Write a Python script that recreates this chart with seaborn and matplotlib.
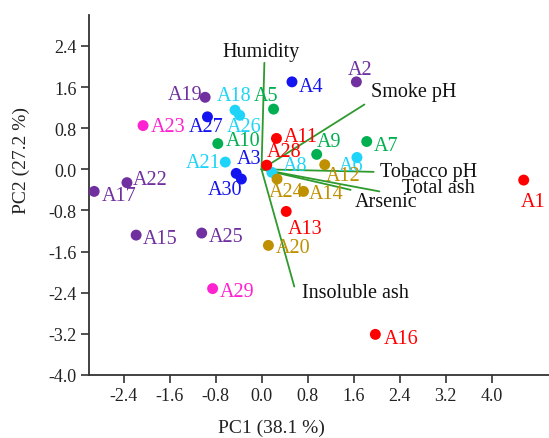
import matplotlib
matplotlib.use("Agg")
import matplotlib.pyplot as plt
import seaborn as sns
import pandas as pd

# ---- data ----
samples = ["A1", "A2", "A3", "A4", "A5", "A6", "A7", "A8", "A9", "A10",
           "A11", "A12", "A13", "A14", "A15", "A16", "A17", "A18", "A19", "A20",
           "A21", "A22", "A23", "A24", "A25", "A26", "A27", "A28", "A29", "A30"]
pc1 = [4.56, 1.65, -0.44, 0.53, 0.21, 1.66, 1.83, 0.18, 0.96, -0.76,
       0.26, 1.10, 0.43, 0.73, -2.18, 1.98, -2.91, -0.46, -0.98, 0.12,
       -0.63, -2.34, -2.06, 0.27, -1.04, -0.38, -0.94, 0.09, -0.85, -0.35]
pc2 = [-0.21, 1.70, -0.08, 1.70, 1.17, 0.23, 0.54, -0.06, 0.29, 0.50,
       0.60, 0.09, -0.82, -0.43, -1.28, -3.21, -0.43, 1.15, 1.40, -1.48,
       0.14, -0.26, 0.85, -0.19, -1.24, 1.05, 1.02, 0.08, -2.32, -0.19]
group = ["g1", "g2", "g3", "g3", "g4", "g5", "g4", "g5", "g4", "g4",
         "g1", "g6", "g1", "g6", "g2", "g1", "g2", "g5", "g2", "g6",
         "g5", "g2", "g7", "g6", "g2", "g5", "g3", "g1", "g7", "g3"]

variables = ["Humidity", "Smoke pH", "Tobacco pH", "Total ash", "Arsenic", "Insoluble ash"]
load_x = [0.05, 1.79, 1.95, 2.05, 1.55, 0.57]
load_y = [2.07, 1.26, -0.05, -0.43, -0.40, -2.28]

xlabel = "PC1 (38.1 %)"
ylabel = "PC2 (27.2 %)"
xticks = [-2.4, -1.6, -0.8, 0.0, 0.8, 1.6, 2.4, 3.2, 4.0]
yticks = [2.4, 1.6, 0.8, 0.0, -0.8, -1.6, -2.4, -3.2, -4.0]

# ---- styles ----
palette = {"g1": "#FF0000", "g2": "#7030A0", "g3": "#1414F0", "g4": "#00B050",
           "g5": "#1ED4F8", "g6": "#BF9000", "g7": "#FF22D0"}

# label offsets in pixels (dx, dy), ha
label_off = {
    "A1": (-3, -21, "left"), "A2": (-9, 12, "left"), "A3": (1, 15, "left"),
    "A4": (7, -5, "left"), "A5": (-20, 14, "left"), "A6": (-18, -8, "left"),
    "A7": (7, -4, "left"), "A8": (11, 7, "left"), "A9": (0, 13, "left"),
    "A10": (8, 3, "left"), "A11": (7, 2, "left"), "A12": (1, -11, "left"),
    "A13": (2, -17, "left"), "A14": (5, -2, "left"), "A15": (7, -3, "left"),
    "A16": (8, -4, "left"), "A17": (8, -4, "left"), "A18": (-18, 15, "left"),
    "A19": (-3, 3, "right"), "A20": (7, -2, "left"), "A21": (-5, 0, "right"),
    "A22": (6, 3, "left"), "A23": (8, -1, "left"), "A24": (-8, -12, "left"),
    "A25": (7, -3, "left"), "A26": (-13, -11, "left"), "A27": (-19, -10, "left"),
    "A28": (0, 14, "left"), "A29": (7, -3, "left"), "A30": (-34, -10, "left"),
}
var_lab = {
    "Humidity": (0.0, 2.29, "center"), "Smoke pH": (1.90, 1.52, "left"),
    "Tobacco pH": (2.06, -0.04, "left"), "Total ash": (2.44, -0.35, "left"),
    "Arsenic": (1.63, -0.62, "left"), "Insoluble ash": (0.70, -2.39, "left"),
}

sns.set_style("white")
plt.rcParams["font.family"] = ["Liberation Serif", "DejaVu Serif"]

fig = plt.figure(figsize=(5.49, 4.39), dpi=100)
ax = fig.add_axes([89 / 549, 63 / 439, 460 / 549, 360 / 439])

df = pd.DataFrame({"sample": samples, "PC1": pc1, "PC2": pc2, "group": group})

for v, lx, ly in zip(variables, load_x, load_y):
    ax.plot([0, lx], [0, ly], color="#2E9A2E", lw=1.3, zorder=1)
    tx, ty, ha = var_lab[v]
    ax.text(tx, ty, v, ha=ha, va="center", fontsize=14.5, color="#111111", zorder=4)

sns.scatterplot(data=df, x="PC1", y="PC2", hue="group", palette=palette,
                s=62, edgecolor="none", legend=False, ax=ax, zorder=3)

for s, x, y, g in zip(samples, pc1, pc2, group):
    dx, dy, ha = label_off[s]
    ax.annotate(s, (x, y), xytext=(dx, dy), textcoords="offset pixels",
                ha=ha, va="center", fontsize=14.5, color=palette[g], zorder=5)

ax.set_xlim(-3.0, 5.0)
ax.set_ylim(-4.0, 3.0)
ax.set_xticks(xticks)
ax.set_xticklabels([f"{t:.1f}" for t in xticks])
ax.set_yticks(yticks)
ax.set_yticklabels([f"{t:.1f}" for t in yticks])
ax.tick_params(axis="both", direction="out", length=6, width=1.2, labelsize=13,
               pad=3, colors="#333333", labelcolor="#222222", left=True, bottom=True)
for side in ["top", "right"]:
    ax.spines[side].set_visible(False)
for side in ["left", "bottom"]:
    ax.spines[side].set_color("#333333")
    ax.spines[side].set_linewidth(1.3)

ax.set_xlabel(xlabel, fontsize=14, color="#222222")
ax.set_ylabel(ylabel, fontsize=14, color="#222222")
ax.xaxis.set_label_coords(0.397, -0.145)
ax.yaxis.set_label_coords(-0.146, 0.598)
ax.xaxis.label.set_va("center")
ax.yaxis.label.set_va("center")

fig.savefig("out.png", dpi=100)
